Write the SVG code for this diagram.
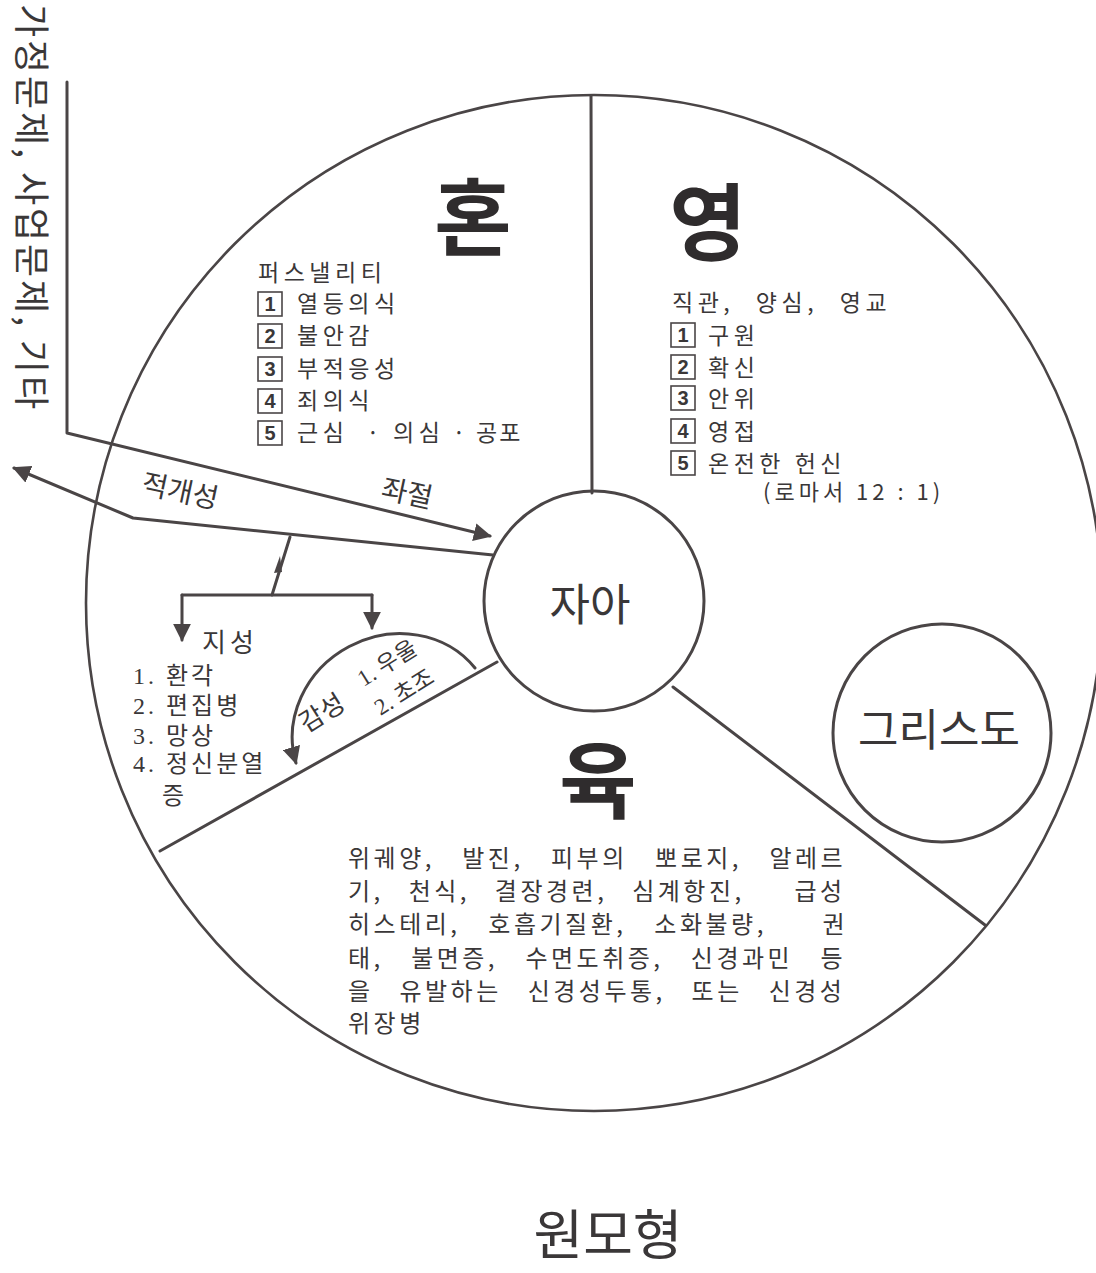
<svg xmlns="http://www.w3.org/2000/svg" width="1096" height="1273" viewBox="0 0 1096 1273">
<style>
.ln{fill:none;stroke:#4a4546;stroke-width:3;stroke-linecap:round;stroke-linejoin:round}
.thin{fill:none;stroke:#4a4546;stroke-width:2.6}
.k{font-family:"Noto Sans CJK KR","Noto Sans",sans-serif;fill:#3a3738}
.s{font-family:"Liberation Serif","Noto Sans CJK KR",serif;fill:#3a3738}
.big{font-family:"Noto Sans CJK KR",sans-serif;font-weight:700;font-size:84px;fill:#2f2c2d;text-anchor:middle}
.t24{font-size:23px;letter-spacing:4.5px}
.body{font-size:24px;letter-spacing:3.5px}
.box{fill:none;stroke:#4a4546;stroke-width:1.6}
.num{font-family:"Liberation Sans",sans-serif;font-weight:bold;font-size:20px;fill:#3a3738;text-anchor:middle}
</style>
<defs>
<marker id="ah" viewBox="0 0 10 10" refX="9" refY="5" markerWidth="6" markerHeight="6" markerUnits="strokeWidth" orient="auto">
<path d="M0,0 L10,5 L0,10 z" fill="#4a4546"/>
</marker>
</defs>
<rect width="1096" height="1273" fill="#ffffff"/>

<g id="outer-circle">
<circle cx="594" cy="603" r="508" class="thin"/>
</g>

<g id="dividers">
<line x1="591" y1="96" x2="592" y2="493" class="ln"/>
<line x1="673" y1="687" x2="985" y2="925" class="ln"/>
<line x1="160" y1="851" x2="497" y2="662" class="ln"/>
</g>

<g id="node-self">
<circle cx="594" cy="601" r="110" class="ln"/>
<text x="590" y="621" class="k" font-size="44" text-anchor="middle">자아</text>
</g>

<g id="node-christ">
<circle cx="942" cy="733" r="109" class="ln"/>
<text x="939" y="746" class="k" font-size="44" text-anchor="middle">그리스도</text>
</g>

<g id="node-soul">
<text x="473" y="249" class="big">혼</text>
<text x="258" y="281" class="k t24">퍼스낼리티</text>
<rect x="258" y="292" width="24" height="24" class="box"/><text x="270" y="311" class="num">1</text>
<text x="297" y="312" class="k t24">열등의식</text>
<rect x="258" y="324" width="24" height="24" class="box"/><text x="270" y="343" class="num">2</text>
<text x="297" y="344" class="k t24">불안감</text>
<rect x="258" y="357" width="24" height="24" class="box"/><text x="270" y="376" class="num">3</text>
<text x="297" y="377" class="k t24">부적응성</text>
<rect x="258" y="389" width="24" height="24" class="box"/><text x="270" y="408" class="num">4</text>
<text x="297" y="409" class="k t24">죄의식</text>
<rect x="258" y="421" width="24" height="24" class="box"/><text x="270" y="440" class="num">5</text>
<g class="k t24">
<text x="297" y="441">근심</text>
<text x="373" y="441" text-anchor="middle" letter-spacing="0">·</text>
<text x="393" y="441">의심</text>
<text x="459" y="441" text-anchor="middle" letter-spacing="0">·</text>
<text x="476" y="441" letter-spacing="2">공포</text>
</g>
</g>

<g id="node-spirit">
<text x="708" y="254" class="big">영</text>
<text x="672" y="311" class="k t24" word-spacing="12">직관, 양심, 영교</text>
<rect x="671" y="323" width="24" height="24" class="box"/><text x="683" y="342" class="num">1</text>
<text x="708" y="344" class="k t24">구원</text>
<rect x="671" y="355" width="24" height="24" class="box"/><text x="683" y="374" class="num">2</text>
<text x="708" y="376" class="k t24">확신</text>
<rect x="671" y="386" width="24" height="24" class="box"/><text x="683" y="405" class="num">3</text>
<text x="708" y="407" class="k t24">안위</text>
<rect x="671" y="419" width="24" height="24" class="box"/><text x="683" y="438" class="num">4</text>
<text x="708" y="440" class="k t24">영접</text>
<rect x="671" y="451" width="24" height="24" class="box"/><text x="683" y="470" class="num">5</text>
<text x="708" y="472" class="k t24">온전한 헌신</text>
<text x="763" y="500" class="k" font-size="22" letter-spacing="4">(로마서 12 : 1)</text>
</g>

<g id="node-flesh">
<text x="598" y="812" class="big">육</text>
<g class="k body">
<text x="348" y="867" word-spacing="18.5">위궤양, 발진, 피부의 뽀로지, 알레르</text>
<text x="348" y="900" word-spacing="16" xml:space="preserve">기, 천식, 결장경련, 심계항진,  급성</text>
<text x="348" y="933" word-spacing="19" xml:space="preserve">히스테리, 호흡기질환, 소화불량,  권</text>
<text x="348" y="967" word-spacing="18.5">태, 불면증, 수면도취증, 신경과민 등</text>
<text x="348" y="1000" word-spacing="17">을 유발하는 신경성두통, 또는 신경성</text>
<text x="348" y="1032">위장병</text>
</g>
</g>

<g id="node-intellect">
<text x="202" y="652" class="s" font-size="26" letter-spacing="4">지성</text>
<g class="s" font-size="24" letter-spacing="3">
<text x="133" y="684">1. 환각</text>
<text x="133" y="714">2. 편집병</text>
<text x="133" y="744">3. 망상</text>
<text x="133" y="772">4. 정신분열</text>
<text x="162" y="804">증</text>
</g>
</g>

<g id="node-emotion">
<text transform="translate(322,713) rotate(-32)" y="9" class="s" font-size="26" text-anchor="middle">감성</text>
<text transform="translate(387,663) rotate(-32)" y="8" class="s" font-size="23" text-anchor="middle">1. 우울</text>
<text transform="translate(404,692) rotate(-32)" y="8" class="s" font-size="23" text-anchor="middle">2. 초조</text>
</g>

<g id="node-external">
<text transform="translate(16,4) rotate(90)" class="k" font-size="36" textLength="405" lengthAdjust="spacing" y="0" dy="-2">가정문제, 사업문제, 기타</text>
</g>

<g id="connectors">
<polyline points="67,82 67,433 490,536" class="ln" stroke-width="3.4" marker-end="url(#ah)"/>
<polyline points="493,555 133,518 14,468" class="ln" stroke-width="3.4" marker-end="url(#ah)"/>
<text transform="translate(180,492) rotate(12)" y="9" class="s" font-size="28" text-anchor="middle">적개성</text>
<text transform="translate(407,494) rotate(12)" y="9" class="s" font-size="28" text-anchor="middle">좌절</text>
<line x1="290" y1="537" x2="272" y2="595" class="ln" stroke-width="3.4"/>
<polygon points="280,556 274,573 282,572" fill="#4a4546"/>
<polyline points="182,595 372,595" class="ln" stroke-width="3.4"/>
<line x1="182" y1="595" x2="182" y2="640" class="ln" stroke-width="3.4" marker-end="url(#ah)"/>
<line x1="372" y1="595" x2="372" y2="628" class="ln" stroke-width="3.4" marker-end="url(#ah)"/>
<path d="M475,668 A103 95 -29 0 0 296,763" class="ln" stroke-width="3.4" marker-end="url(#ah)"/>
</g>

<text x="608" y="1255" class="k" font-size="54" text-anchor="middle">원모형</text>
</svg>
